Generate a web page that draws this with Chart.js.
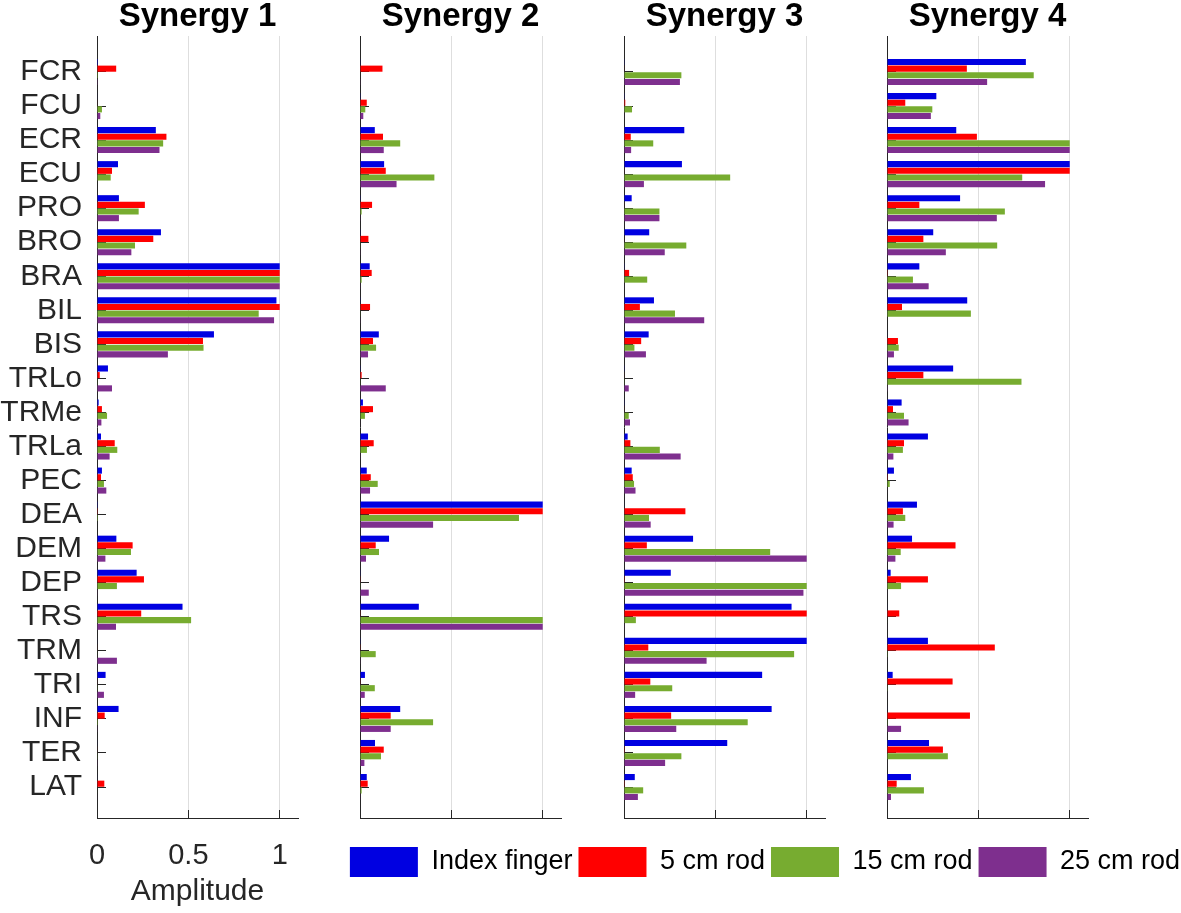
<!DOCTYPE html>
<html>
<head>
<title>Muscle synergies</title>
<script src="https://cdn.jsdelivr.net/npm/chart.js"></script>
<style>
  body { margin: 0; background: #fff; overflow: hidden; }
  #wrap { position: relative; width: 1181px; height: 913px; overflow: hidden; }
  canvas { position: absolute; top: 0; }
</style>
</head>
<body>
<div id="wrap">
  <canvas id="syn1" width="310" height="913" style="left:0px"></canvas>
  <canvas id="syn2" width="223" height="913" style="left:350px"></canvas>
  <canvas id="syn3" width="223" height="913" style="left:614px"></canvas>
  <canvas id="syn4" width="223" height="913" style="left:877px"></canvas>
  <canvas id="legend" width="860" height="120" style="left:335px;top:841px"></canvas>
</div>
<script>
const muscles = ['FCR', 'FCU', 'ECR', 'ECU', 'PRO', 'BRO', 'BRA', 'BIL', 'BIS', 'TRLo', 'TRMe',
                 'TRLa', 'PEC', 'DEA', 'DEM', 'DEP', 'TRS', 'TRM', 'TRI', 'INF', 'TER', 'LAT'];
const xTicks = [0, 0.5, 1];
const seriesNames = ['Index finger', '5 cm rod', '15 cm rod', '25 cm rod'];
const seriesColors = ['rgb(0,0,225)', 'rgb(255,0,0)', 'rgb(119,172,48)', 'rgb(126,47,142)'];

// synergy 1
const syn1Index = [.005, .003, .322, .115, .12, .35, 1, .982, .64, .06, .009, .022, .027, .004, .106, .217, .468, .003, .047, .118, .003, .003];
const syn1Rod5  = [.105, .003, .38, .082, .262, .308, 1, 1, .58, .015, .027, .097, .022, .004, .195, .257, .242, .003, .003, .042, .003, .04];
const syn1Rod15 = [.005, .027, .362, .075, .228, .208, 1, .885, .583, .002, .055, .111, .038, .005, .186, .109, .515, .003, .002, .005, .002, .003];
const syn1Rod25 = [.004, .018, .342, 0, .12, .188, 1, .969, .388, .082, .024, .069, .051, 0, .046, .002, .104, .109, .038, .002, .002, .003];

// synergy 2
const syn2Index = [.002, .002, .081, .132, .002, .002, .053, .002, .103, .002, .016, .044, .037, 1, .159, .002, .322, .002, .027, .22, .082, .037];
const syn2Rod5  = [.123, .037, .126, .141, .066, .046, .064, .055, .071, .009, .071, .075, .059, 1, .086, .002, .002, .002, .002, .168, .13, .042];
const syn2Rod15 = [.003, .029, .22, .407, .009, .002, .009, .002, .088, .002, .027, .038, .097, .87, .104, .002, 1, .086, .081, .4, .115, .009];
const syn2Rod25 = [.002, .018, .13, .2, .002, .002, .002, .002, .044, .141, .003, .002, .055, .4, .033, .048, 1, .002, .026, .168, .024, .002];

// synergy 3
const syn3Index = [.002, .002, .33, .317, .042, .138, .002, .164, .135, .002, .002, .02, .042, .003, .378, .256, .917, 1, .756, .808, .565, .059];
const syn3Rod5  = [.003, .007, .037, .003, .003, .003, .028, .087, .094, .003, .003, .035, .048, .336, .125, .004, 1, .133, .144, .258, .004, .004];
const syn3Rod15 = [.314, .044, .16, .581, .194, .341, .127, .279, .057, .002, .026, .196, .055, .137, .8, 1, .065, .931, .264, .677, .314, .105];
const syn3Rod25 = [.306, .003, .039, .109, .194, .223, .003, .439, .12, .026, .033, .31, .063, .146, 1, .982, .002, .452, .061, .286, .225, .076];

// synergy 4
const syn4Index = [.76, .27, .379, 1, .4, .253, .177, .439, .003, .362, .08, .224, .038, .164, .137, .02, .003, .224, .031, .003, .23, .131];
const syn4Rod5  = [.437, .1, .492, 1, .177, .199, .004, .082, .06, .199, .033, .093, .004, .087, .375, .224, .067, .59, .359, .454, .306, .053];
const syn4Rod15 = [.803, .248, 1, .74, .645, .603, .142, .459, .064, .736, .093, .087, .015, .1, .075, .077, .003, .004, .004, .004, .333, .202];
const syn4Rod25 = [.548, .24, 1, .865, .601, .322, .228, 0, .038, .004, .118, .035, .003, .036, .046, .003, .003, .003, .003, .077, .003, .022];

Chart.defaults.font.family = '"Liberation Sans", Arial, Helvetica, sans-serif';

function makePanel(id, title, values, first) {
  new Chart(document.getElementById(id), {
    type: 'bar',
    data: {
      datasets: values.map((vals, k) => ({
        label: seriesNames[k],
        data: vals.map((v, i) => ({x: v, y: i})),
        backgroundColor: seriesColors[k],
        borderWidth: 0,
        categoryPercentage: 0.78,
        barPercentage: 0.92
      }))
    },
    options: {
      indexAxis: 'y',
      responsive: false,
      animation: false,
      layout: {padding: {right: 12}},
      plugins: {
        legend: {display: false},
        tooltip: {enabled: false},
        title: {
          display: true, text: title, fullSize: false, color: '#000',
          font: {size: 33, weight: 'bold', lineHeight: 1},
          padding: {top: 0, bottom: 3}
        }
      },
      scales: {
        x: {
          type: 'linear', min: 0, max: 1.1,
          afterBuildTicks: s => { s.ticks = xTicks.map(v => ({value: v})); },
          afterFit: s => { s.height = 95; s.paddingLeft = 0; s.paddingRight = 0; },
          grid: {
            color: c => (c.tick && c.tick.value === 0) ? 'rgba(0,0,0,0)' : '#dedede',
            tickColor: '#262626', tickLength: -8
          },
          border: {color: '#262626'},
          ticks: {display: first, color: '#262626', font: {size: 29}, padding: 29, maxRotation: 0,
                  callback: v => String(v)},
          title: {display: first, text: 'Amplitude', color: '#262626', font: {size: 30}, padding: {top: 0, bottom: 3}}
        },
        y: {
          type: 'linear', reverse: true, min: -1.057, max: 21.91, z: 1,
          offset: false,
          afterBuildTicks: s => { s.ticks = muscles.map((m, i) => ({value: i})); },
          afterFit: s => { s.width = first ? 97 : 10; s.paddingTop = 0; s.paddingBottom = 0; },
          grid: {drawOnChartArea: false, offset: false, tickLength: -9, tickColor: '#262626'},
          border: {color: '#262626'},
          ticks: {display: first, autoSkip: false, color: '#262626', font: {size: 30}, padding: 24,
                  callback: v => muscles[v]}
        }
      }
    }
  });
}

makePanel('syn1', 'Synergy 1', [syn1Index, syn1Rod5, syn1Rod15, syn1Rod25], true);
makePanel('syn2', 'Synergy 2', [syn2Index, syn2Rod5, syn2Rod15, syn2Rod25], false);
makePanel('syn3', 'Synergy 3', [syn3Index, syn3Rod5, syn3Rod15, syn3Rod25], false);
makePanel('syn4', 'Synergy 4', [syn4Index, syn4Rod5, syn4Rod15, syn4Rod25], false);

// shared legend along the bottom
new Chart(document.getElementById('legend'), {
  type: 'bar',
  data: {
    datasets: seriesNames.map((name, k) => ({
      label: name, data: [], backgroundColor: seriesColors[k], borderWidth: 0
    }))
  },
  options: {
    responsive: false,
    animation: false,
    events: [],
    plugins: {
      tooltip: {enabled: false},
      legend: {
        labels: {boxWidth: 68, boxHeight: 30, color: '#000', font: {size: 27}, padding: 6}
      }
    },
    scales: {x: {display: false}, y: {display: false}}
  }
});
</script>
</body>
</html>
